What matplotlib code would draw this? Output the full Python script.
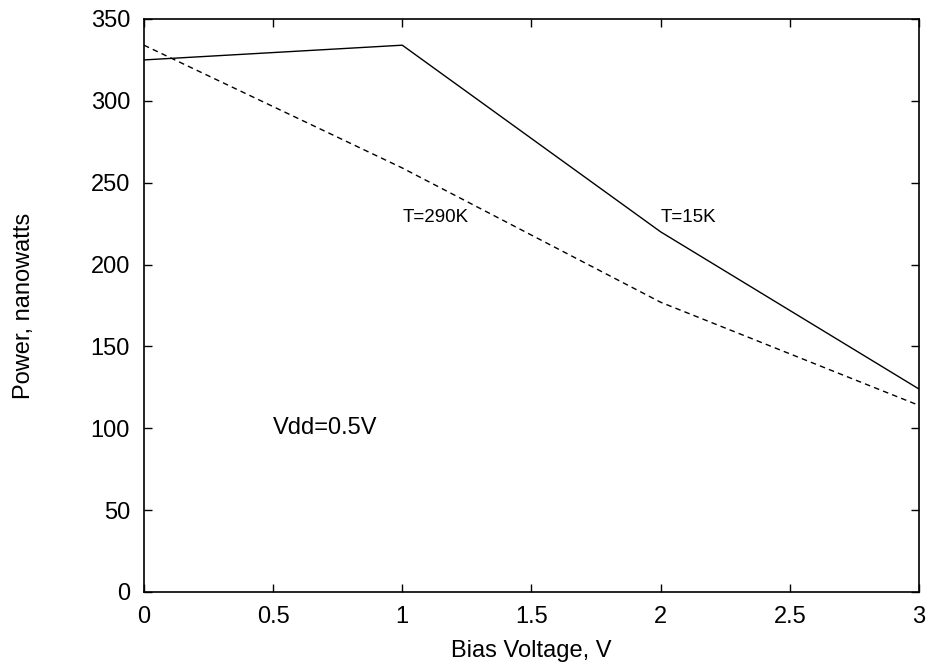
import matplotlib
matplotlib.use("Agg")
import matplotlib.pyplot as plt

plt.rcParams["font.family"] = ["Liberation Sans", "DejaVu Sans"]

bias = [0, 1, 2, 3]
power_15k = [325, 334, 220, 124]
power_290k = [334, 259, 177, 114]

fig = plt.figure(figsize=(9.3, 6.69), dpi=100)
ax = fig.add_axes([0.1548, 0.1151, 0.8333, 0.8565])

ax.plot(bias, power_15k, color="black", linewidth=1.0, linestyle="-")
ax.plot(bias, power_290k, color="black", linewidth=1.0, linestyle=(0, (4, 3)))

ax.text(1.0, 229, "T=290K", fontsize=13.5, ha="left", va="center")
ax.text(2.0, 229, "T=15K", fontsize=13.5, ha="left", va="center")
ax.text(0.5, 100, "Vdd=0.5V", fontsize=17, ha="left", va="center")

ax.set_xlim(0, 3)
ax.set_ylim(0, 350)
ax.set_xticks([0, 0.5, 1, 1.5, 2, 2.5, 3])
ax.set_xticklabels(["0", "0.5", "1", "1.5", "2", "2.5", "3"])
ax.set_yticks(range(0, 351, 50))
ax.tick_params(axis="both", direction="in", length=6, width=1, labelsize=17,
               top=True, right=True)
ax.tick_params(axis="y", pad=10)
ax.tick_params(axis="x", pad=10)
for s in ax.spines.values():
    s.set_linewidth(1.2)

ax.set_xlabel("Bias Voltage, V", fontsize=17, labelpad=9)
ax.set_ylabel("Power, nanowatts", fontsize=17, labelpad=40)

fig.savefig("out.png", dpi=100)
